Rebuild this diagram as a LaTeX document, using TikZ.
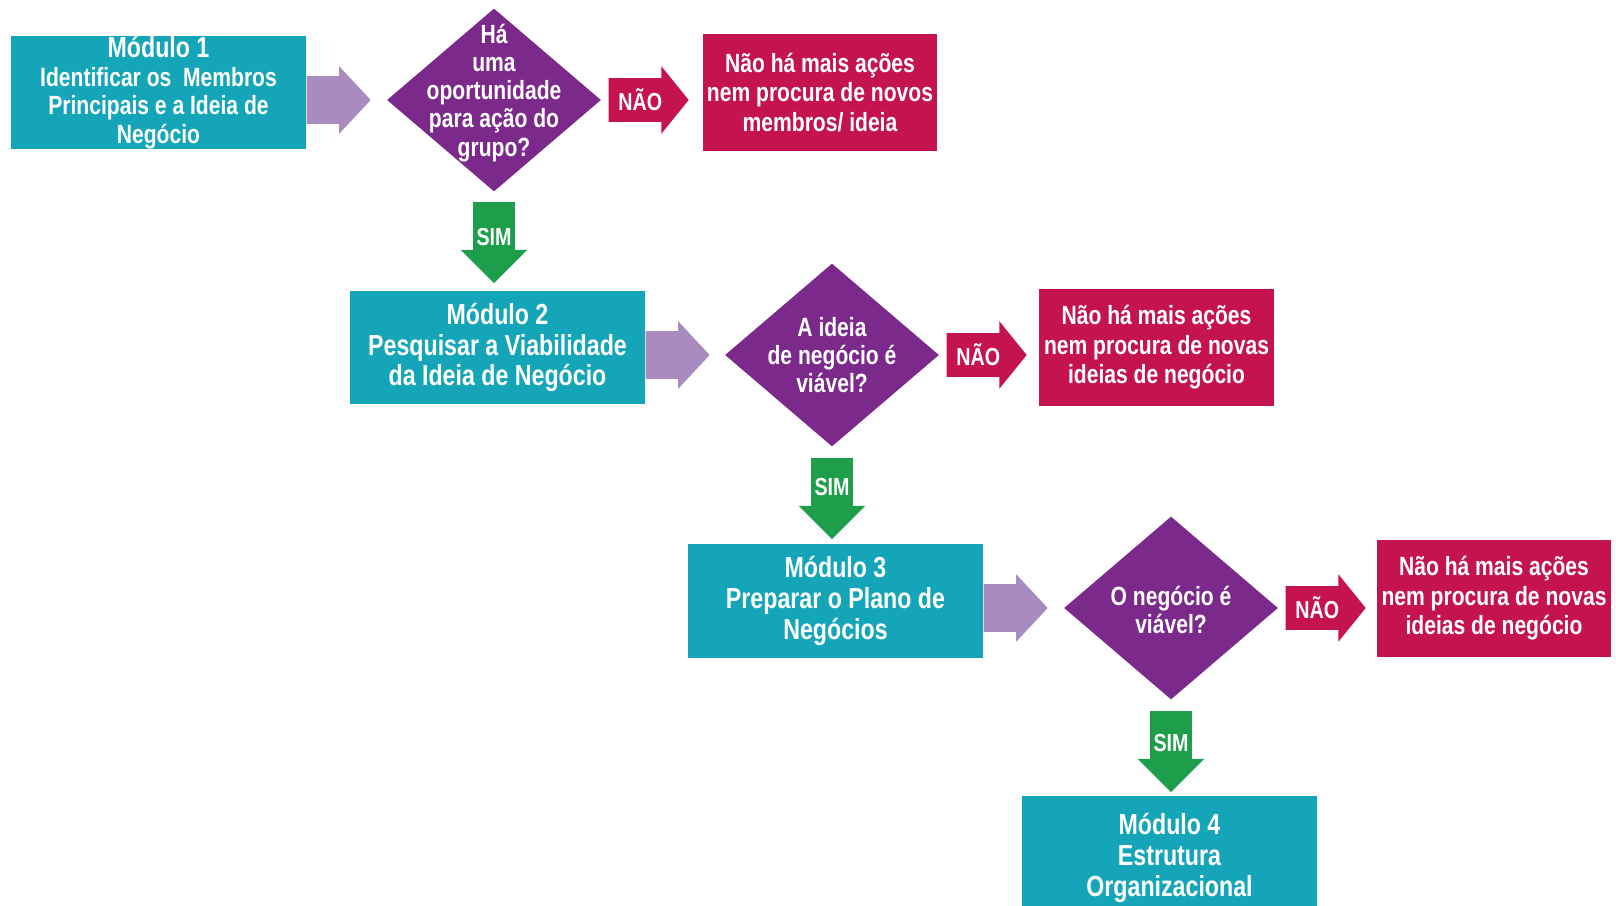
\documentclass[tikz,border=0pt]{standalone}
\usepackage{fontspec}
\setmainfont{Liberation Sans}[FakeStretch=0.8]
\usetikzlibrary{shapes.geometric,shapes.arrows,calc,positioning}
\definecolor{modteal}{RGB}{20,166,184}
\definecolor{askpurple}{RGB}{124,41,140}
\definecolor{nored}{RGB}{197,19,79}
\definecolor{flowlilac}{RGB}{169,139,192}
\definecolor{yesgreen}{RGB}{30,158,74}
\tikzset{
	modulo/.style={fill=modteal, text=white, align=center, inner sep=0pt,
			minimum width=5.9cm, minimum height=2.28cm,
			font=\bfseries\fontsize{16.5}{17.6}\selectfont},
	fim/.style={fill=nored, text=white, align=center, inner sep=0pt,
			minimum width=4.7cm, minimum height=2.34cm,
			font=\bfseries\fontsize{15}{16.8}\selectfont},
	pergunta/.style={diamond, fill=askpurple, inner sep=0pt,
			minimum width=4.28cm, minimum height=3.66cm},
	pergtexto/.style={text=white, align=center, inner sep=0pt,
			font=\bfseries\fontsize{15}{16}\selectfont},
	setatexto/.style={text=white, inner sep=0pt,
			font=\bfseries\fontsize{14}{15}\selectfont},
	seta/.style={single arrow, fill=flowlilac, anchor=tail,
			inner xsep=0pt, inner ysep=0.47cm, minimum height=1.28cm,
			single arrow head extend=0.2cm, single arrow tip angle=94},
	nao/.style={single arrow, fill=nored, anchor=tail,
			inner xsep=0pt, inner ysep=0.43cm, minimum height=1.6cm,
			single arrow head extend=0.24cm, single arrow tip angle=102},
	sim/.style={single arrow, shape border rotate=270, fill=yesgreen, anchor=tail,
			inner xsep=0.41cm, inner ysep=0pt, minimum height=1.62cm,
			single arrow head extend=0.25cm, single arrow tip angle=90}
}

\begin{document}
\begin{tikzpicture}[x=0.02cm, y=-0.02cm]
	\useasboundingbox (0,0) rectangle (1616,906);

	% modulos e perguntas
	\node[modulo, font=\bfseries\fontsize{15}{16.2}\selectfont] (m1) at (158.5,92.5)
		{{\fontsize{16.5}{16.2}\selectfont Módulo 1}\\ Identificar os~ Membros\\ Principais e a Ideia de\\ Negócio};
	\node[pergunta] (d1) at (494,100) {};
	\node[pergtexto] (d1t) at ($(d1)+(0,-7)$) {Há\\ uma\\ oportunidade\\ para ação do\\ grupo?};
	\node[fim] (n1) at (820,92.5) {Não há mais ações\\ nem procura de novos\\ membros/ ideia};

	\node[modulo] (m2) at (497.5,347.5) {Módulo 2\\ Pesquisar a Viabilidade\\ da Ideia de Negócio};
	\node[pergunta] (d2) at (832,355) {};
	\node[pergtexto] (d2t) at (d2) {A ideia\\ de negócio é\\ viável?};
	\node[fim] (n2) at (1156.5,347.5) {Não há mais ações\\ nem procura de novas\\ ideias de negócio};

	\node[modulo] (m3) at (835.5,601) {Módulo 3\\ Preparar o Plano de\\ Negócios};
	\node[pergunta] (d3) at (1171,608) {};
	\node[pergtexto] (d3t) at ($(d3)+(0,2)$) {O negócio é\\ viável?};
	\node[fim] (n3) at (1494,598.5) {Não há mais ações\\ nem procura de novas\\ ideias de negócio};

	\node[modulo, minimum height=2.5cm] (m4) at (1169.5,858) {Módulo 4\\ Estrutura\\ Organizacional};

	% setas
	\node[seta] (p1) at (m1.east |- d1) {};
	\node[seta] (p2) at (m2.east |- d2) {};
	\node[seta] (p3) at (m3.east |- d3) {};

	\node[nao] (no1) at ($(d1.east)+(7,0)$) {};
	\node[nao] (no2) at ($(d2.east)+(7,0)$) {};
	\node[nao] (no3) at ($(d3.east)+(7,0)$) {};
	\node[setatexto] (no1t) at ($(no1.tail)+(32,0)$) {NÃO};
	\node[setatexto] (no2t) at ($(no2.tail)+(32,0)$) {NÃO};
	\node[setatexto] (no3t) at ($(no3.tail)+(32,0)$) {NÃO};

	\node[sim] (s1) at ($(d1.south)+(0,10)$) {};
	\node[sim] (s2) at ($(d2.south)+(0,11)$) {};
	\node[sim] (s3) at ($(d3.south)+(0,11)$) {};
	\node[setatexto] (s1t) at ($(s1.tail)+(0,35)$) {SIM};
	\node[setatexto] (s2t) at ($(s2.tail)+(0,29)$) {SIM};
	\node[setatexto] (s3t) at ($(s3.tail)+(0,32)$) {SIM};
\end{tikzpicture}
\end{document}
